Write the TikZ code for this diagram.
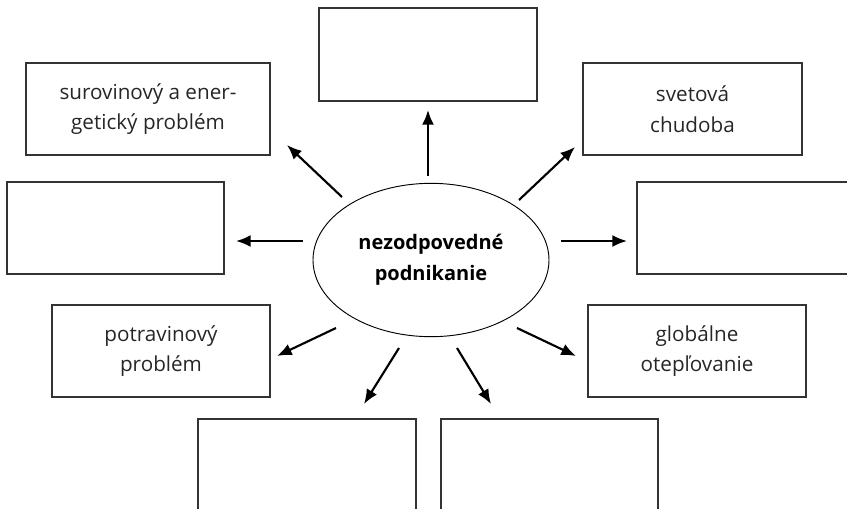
\documentclass[tikz,border=0pt]{standalone}
\usepackage{fontspec}
\setmainfont{Open Sans}
\usetikzlibrary{arrows.meta,shapes.geometric}
\begin{document}
\begin{tikzpicture}[x=0.75pt,y=-0.75pt,
  box/.style={draw=black!80,line width=0.8pt,rectangle,inner sep=0pt,align=center,
    font=\fontsize{15.5}{23}\selectfont\color{black!85}},
  hub/.style={draw=black,line width=0.7pt,ellipse,inner sep=0pt,minimum width=177pt,minimum height=115pt,
    align=center,font=\fontsize{15}{23}\selectfont\bfseries},
  arr/.style={line width=1.6pt,-{Latex[length=11pt,width=9pt]}}]
\useasboundingbox (0,0) rectangle (847,508);
% boxes defined by corners
\newcommand{\mybox}[6]{\node[box,minimum width={(#4-#2)*0.75pt},minimum height={(#5-#3)*0.75pt}] (#1) at ({(#2+#4)/2},{(#3+#5)/2}) {#6};}
\mybox{top}{319}{8}{537}{101}{}
\mybox{sur}{26}{63}{270}{155}{surovinový a ener-\\getický problém}
\mybox{svet}{583}{63}{802}{155}{svetová\\chudoba}
\mybox{lm}{7}{182}{224}{274}{}
\mybox{rm}{637}{182}{870}{274}{}
\mybox{potr}{52}{305}{270}{397}{potravinový\\problém}
\mybox{glob}{588}{305}{806}{397}{globálne\\otepľovanie}
\mybox{bl}{198}{419}{416}{530}{}
\mybox{br}{441}{419}{658}{530}{}
\node[hub] (ell) at (431,260) {nezodpovedné\\podnikanie};
% arrow endpoints
\coordinate (s1) at (428,176); \coordinate (e1) at (428,110);
\coordinate (s2) at (342,197); \coordinate (e2) at (287,145);
\coordinate (s3) at (303,241); \coordinate (e3) at (236,241);
\coordinate (s4) at (519,200); \coordinate (e4) at (575,147);
\coordinate (s5) at (561,241); \coordinate (e5) at (627,241);
\coordinate (s6) at (336,328); \coordinate (e6) at (277,356);
\coordinate (s7) at (399,348); \coordinate (e7) at (364,404);
\coordinate (s8) at (457,348); \coordinate (e8) at (491,404);
\coordinate (s9) at (517,328); \coordinate (e9) at (576,356);
\foreach \i in {1,...,9} {\draw[arr] (s\i) -- (e\i);}
\end{tikzpicture}
\end{document}
